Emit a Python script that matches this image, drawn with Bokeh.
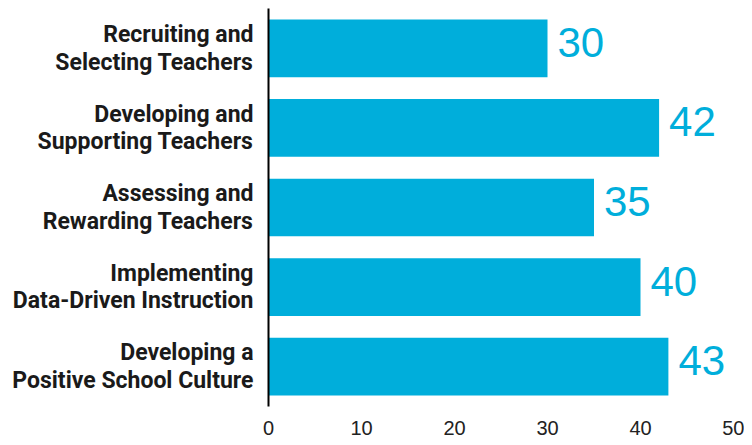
from bokeh.plotting import figure
from bokeh.models import FactorRange, Range1d, ColumnDataSource
from bokeh.core.properties import value
from bokeh.embed import file_html
from bokeh.resources import INLINE

categories = [
    "Recruiting and\nSelecting Teachers",
    "Developing and\nSupporting Teachers",
    "Assessing and\nRewarding Teachers",
    "Implementing\nData-Driven Instruction",
    "Developing a\nPositive School Culture",
]
values = [30, 42, 35, 40, 43]
x_ticks = [0, 10, 20, 30, 40, 50]

BLUE = "#00AEDB"

p = figure(
    width=744, height=437,
    y_range=FactorRange(factors=list(reversed(categories)), range_padding=0),
    x_range=Range1d(0, 50),
    output_backend="svg", toolbar_location=None,
    min_border_left=268, min_border_right=11, min_border_top=8, min_border_bottom=31,
)
p.outline_line_color = None
p.xgrid.grid_line_color = None
p.ygrid.grid_line_color = None

src = ColumnDataSource(dict(cat=categories, val=values, lab=[str(v) for v in values]))
p.hbar(y="cat", right="val", left=0, height=0.725, source=src, fill_color=BLUE, line_color=None)
p.text(x="val", y="cat", text="lab", source=src, x_offset=10, y_offset=-6,
       text_baseline="middle", text_align="left", text_color=BLUE,
       text_font=value("Liberation Sans"), text_font_size="42px")

# y axis
p.yaxis.axis_line_color = "black"
p.yaxis.axis_line_width = 2
p.yaxis.major_tick_line_color = None
p.yaxis.minor_tick_line_color = None
p.yaxis.major_tick_out = 0
p.yaxis.major_tick_in = 0
p.yaxis.major_label_standoff = 15
p.yaxis.major_label_text_font = "Roboto"
p.yaxis.major_label_text_font_style = "bold"
p.yaxis.major_label_text_font_size = "23px"
p.yaxis.major_label_text_color = "#1a1a1a"
p.yaxis.major_label_text_line_height = 1.02

# x axis
p.xaxis.ticker = x_ticks
p.xaxis.axis_line_color = None
p.xaxis.major_tick_line_color = None
p.xaxis.minor_tick_line_color = None
p.xaxis.major_tick_out = 0
p.xaxis.major_tick_in = 0
p.xaxis.major_label_standoff = 14
p.xaxis.major_label_text_font = "Liberation Sans"
p.xaxis.major_label_text_font_style = "normal"
p.xaxis.major_label_text_font_size = "20px"
p.xaxis.major_label_text_line_height = 0.75
p.xaxis.major_label_text_color = "#222222"

open("out.html", "w").write(file_html(p, INLINE))
